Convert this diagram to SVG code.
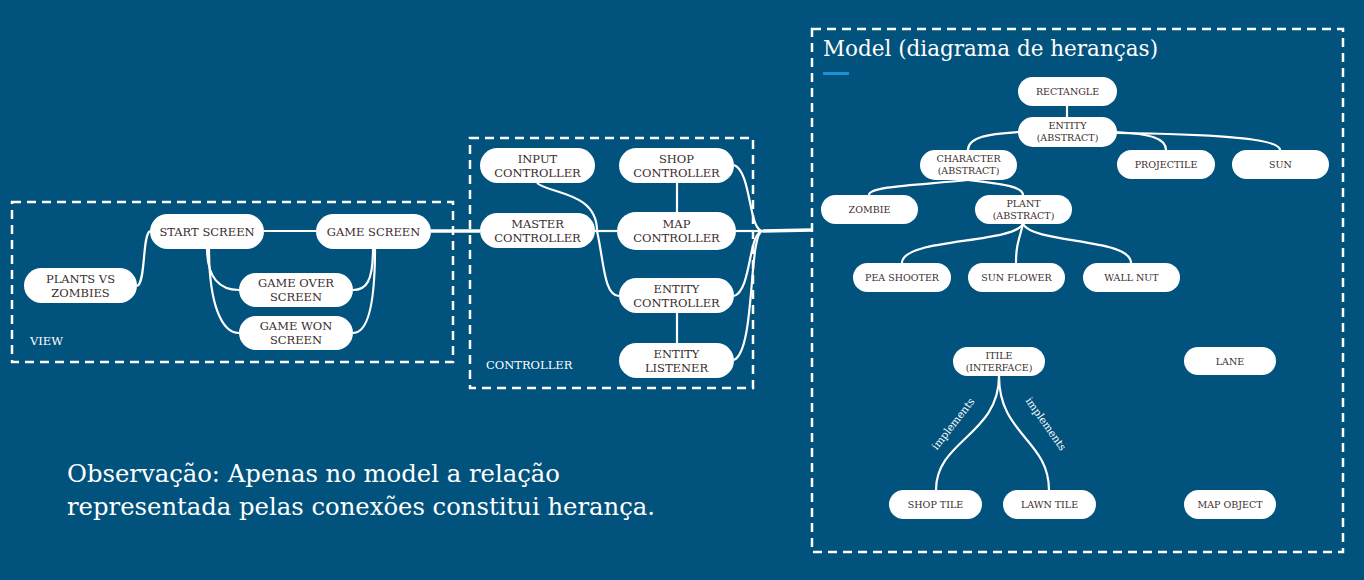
<svg xmlns="http://www.w3.org/2000/svg" width="1364" height="580" viewBox="0 0 1364 580">
<style>
.bg{fill:#01527c}
.box{fill:none;stroke:#fff;stroke-width:2.5;stroke-dasharray:9 6}
.n rect{fill:#fff}
.n text{font-family:"DejaVu Serif","Liberation Serif",serif;font-size:11.5px;fill:#3a2d2d;text-anchor:middle}
.m rect{fill:#fff}
.m text{font-family:"DejaVu Serif","Liberation Serif",serif;font-size:9.5px;fill:#3a2d2d;text-anchor:middle}
.c path,.c line{fill:none;stroke:#fff;stroke-width:2.2}
.c .thick{stroke-width:3.5}
.lbl{font-family:"DejaVu Serif","Liberation Serif",serif;fill:#fff}
</style>
<rect class="bg" x="0" y="0" width="1364" height="580"/>
<rect class="box" x="12" y="202" width="441" height="160"/>
<rect class="box" x="470" y="138" width="283" height="250"/>
<rect class="box" x="812" y="29" width="531" height="523"/>
<text class="lbl" x="30" y="345" font-size="11.5">VIEW</text>
<text class="lbl" x="486" y="369" font-size="11.5">CONTROLLER</text>
<text class="lbl" x="823" y="56" font-size="21.5">Model (diagrama de heranças)</text>
<rect x="823" y="72" width="26" height="3" fill="#1e90d8"/>
<text class="lbl" x="67" y="482" font-size="24.3">Observação: Apenas no model a relação</text>
<text class="lbl" x="67" y="515" font-size="24.3">representada pelas conexões constitui herança.</text>

<g class="c" id="connectors">
<path d="M137,286 C146,283 142,235 150,231"/>
<line x1="264" y1="231" x2="316" y2="231"/>
<path d="M207,248 C207,278 220,290 239,290"/>
<path d="M209,248 C209,305 222,333 239,333"/>
<path d="M373,249 C373,282 366,290 353,290"/>
<path d="M375,249 C375,312 366,333 353,333"/>
<line class="thick" x1="431" y1="231" x2="480" y2="231"/>
<line x1="595" y1="231" x2="617" y2="231"/>
<path d="M537,183 C550,194 597,192 597,231"/>
<path d="M597,231 C604,262 604,296 619,296"/>
<line x1="677" y1="183" x2="677" y2="212"/>
<line x1="677" y1="313" x2="677" y2="343"/>
<line x1="736" y1="231" x2="763" y2="231"/>
<path d="M734,165 C752,172 748,231 763,231"/>
<path d="M734,296 C752,290 748,231 763,231"/>
<path d="M734,360 C756,350 748,231 763,231"/>
<line class="thick" x1="763" y1="231" x2="812" y2="230"/>
<line x1="1067" y1="106" x2="1067" y2="117"/>
<path d="M1019,132 C985,134 968,138 968,150"/>
<path d="M1116,132 C1150,134 1166,138 1166,150"/>
<path d="M1116,133 C1200,134 1280,137 1280,150"/>
<path d="M968,180 C920,185 869,186 869,195"/>
<path d="M968,180 C1000,184 1023,186 1023,195"/>
<path d="M1023,224 C1012,244 902,238 902,263"/>
<path d="M1023,224 C1019,240 1016,245 1016,263"/>
<path d="M1023,224 C1034,244 1131,238 1131,263"/>
<path d="M999,376 C999,435 936,440 936,490"/>
<path d="M999,376 C999,435 1049,440 1049,490"/>
</g>
<text class="lbl" font-size="10.5" transform="translate(956,426) rotate(-52)" text-anchor="middle">implements</text>
<text class="lbl" font-size="10.5" transform="translate(1043,426) rotate(55)" text-anchor="middle">implements</text>

<g class="n" id="plants-vs-zombies"><rect x="24" y="268" width="113" height="35" rx="17.5"/><text x="80.5" y="283">PLANTS VS</text><text x="80.5" y="297">ZOMBIES</text></g>
<g class="n" id="start-screen"><rect x="150" y="214" width="114" height="35" rx="17.5"/><text x="207" y="235.5">START SCREEN</text></g>
<g class="n" id="game-screen"><rect x="316" y="214" width="115" height="35" rx="17.5"/><text x="373.5" y="235.5">GAME SCREEN</text></g>
<g class="n" id="game-over-screen"><rect x="239" y="273" width="114" height="34" rx="17"/><text x="296" y="287">GAME OVER</text><text x="296" y="301">SCREEN</text></g>
<g class="n" id="game-won-screen"><rect x="239" y="316" width="114" height="34" rx="17"/><text x="296" y="330">GAME WON</text><text x="296" y="344">SCREEN</text></g>

<g class="n" id="input-controller"><rect x="480" y="148" width="115" height="35" rx="17.5"/><text x="537.5" y="163">INPUT</text><text x="537.5" y="177">CONTROLLER</text></g>
<g class="n" id="shop-controller"><rect x="619" y="148" width="115" height="35" rx="17.5"/><text x="676.5" y="163">SHOP</text><text x="676.5" y="177">CONTROLLER</text></g>
<g class="n" id="master-controller"><rect x="480" y="213" width="115" height="35" rx="17.5"/><text x="537.5" y="228">MASTER</text><text x="537.5" y="242">CONTROLLER</text></g>
<g class="n" id="map-controller"><rect x="617" y="212" width="119" height="38" rx="19"/><text x="676.5" y="228">MAP</text><text x="676.5" y="242">CONTROLLER</text></g>
<g class="n" id="entity-controller"><rect x="619" y="278" width="115" height="35" rx="17.5"/><text x="676.5" y="293">ENTITY</text><text x="676.5" y="307">CONTROLLER</text></g>
<g class="n" id="entity-listener"><rect x="619" y="343" width="115" height="35" rx="17.5"/><text x="676.5" y="358">ENTITY</text><text x="676.5" y="372">LISTENER</text></g>

<g class="m" id="rectangle"><rect x="1018" y="77" width="99" height="29" rx="14.5"/><text x="1067.5" y="95">RECTANGLE</text></g>
<g class="m" id="entity"><rect x="1018" y="117" width="99" height="30" rx="15"/><text x="1067.5" y="129">ENTITY</text><text x="1067.5" y="141">(ABSTRACT)</text></g>
<g class="m" id="character"><rect x="920" y="150" width="97" height="30" rx="15"/><text x="968.5" y="162">CHARACTER</text><text x="968.5" y="174">(ABSTRACT)</text></g>
<g class="m" id="projectile"><rect x="1117" y="150" width="98" height="29" rx="14.5"/><text x="1166" y="168">PROJECTILE</text></g>
<g class="m" id="sun"><rect x="1232" y="150" width="97" height="29" rx="14.5"/><text x="1280.5" y="168">SUN</text></g>
<g class="m" id="zombie"><rect x="821" y="195" width="97" height="29" rx="14.5"/><text x="869.5" y="213">ZOMBIE</text></g>
<g class="m" id="plant"><rect x="975" y="195" width="97" height="29" rx="14.5"/><text x="1023.5" y="207">PLANT</text><text x="1023.5" y="219">(ABSTRACT)</text></g>
<g class="m" id="pea-shooter"><rect x="853" y="263" width="98" height="29" rx="14.5"/><text x="902" y="281">PEA SHOOTER</text></g>
<g class="m" id="sun-flower"><rect x="968" y="263" width="97" height="29" rx="14.5"/><text x="1016.5" y="281">SUN FLOWER</text></g>
<g class="m" id="wall-nut"><rect x="1083" y="263" width="97" height="29" rx="14.5"/><text x="1131.5" y="281">WALL NUT</text></g>
<g class="m" id="itile"><rect x="953" y="347" width="92" height="29" rx="14.5"/><text x="999" y="359">ITILE</text><text x="999" y="371">(INTERFACE)</text></g>
<g class="m" id="lane"><rect x="1184" y="347" width="92" height="28" rx="14"/><text x="1230" y="364.5">LANE</text></g>
<g class="m" id="shop-tile"><rect x="889" y="490" width="93" height="29" rx="14.5"/><text x="935.5" y="508">SHOP TILE</text></g>
<g class="m" id="lawn-tile"><rect x="1003" y="490" width="93" height="29" rx="14.5"/><text x="1049.5" y="508">LAWN TILE</text></g>
<g class="m" id="map-object"><rect x="1184" y="490" width="92" height="29" rx="14.5"/><text x="1230" y="508">MAP OBJECT</text></g>
</svg>
